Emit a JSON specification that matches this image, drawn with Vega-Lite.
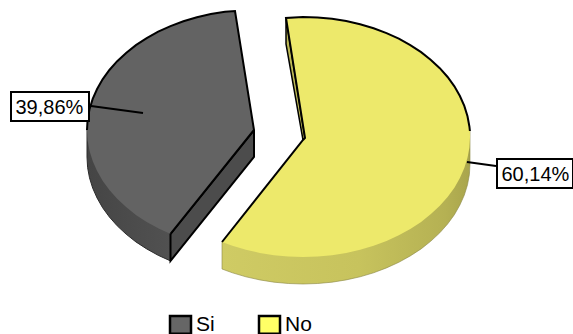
{
  "$schema": "https://vega.github.io/schema/vega-lite/v6.json",
  "width": 573,
  "height": 334,
  "padding": 0,
  "autosize": {"type": "none"},
  "background": "white",
  "config": {"view": {"stroke": null}},
  "datasets": {
    "graySide": [
      {"i":0,"x":87,"y":130},{"i":1,"x":87,"y":157},{"i":2,"x":87.6,"y":167.5},{"i":3,"x":89.5,"y":177.8},{"i":4,"x":92.7,"y":188.1},{"i":5,"x":97.1,"y":198},{"i":6,"x":102.6,"y":207.7},{"i":7,"x":109.4,"y":217},{"i":8,"x":117.2,"y":225.8},{"i":9,"x":126.1,"y":234.1},{"i":10,"x":135.9,"y":241.9},{"i":11,"x":146.7,"y":248.9},{"i":12,"x":158.2,"y":255.3},{"i":13,"x":170.5,"y":260.9},{"i":14,"x":170.5,"y":233.9},{"i":15,"x":87,"y":130}
    ],
    "grayWall": [
      {"i":0,"x":254,"y":130},{"i":1,"x":170.5,"y":233.9},{"i":2,"x":170.5,"y":260.9},{"i":3,"x":254,"y":157},{"i":4,"x":254,"y":130}
    ],
    "yellowSide": [
      {"i":0,"x":470,"y":130},{"i":1,"x":470,"y":164},{"i":2,"x":469.4,"y":174.5},{"i":3,"x":467.5,"y":184.8},{"i":4,"x":464.3,"y":195.1},{"i":5,"x":459.9,"y":205},{"i":6,"x":454.4,"y":214.7},{"i":7,"x":447.6,"y":224},{"i":8,"x":439.8,"y":232.8},{"i":9,"x":430.9,"y":241.1},{"i":10,"x":421.1,"y":248.9},{"i":11,"x":410.3,"y":255.9},{"i":12,"x":398.8,"y":262.3},{"i":13,"x":386.5,"y":267.9},{"i":14,"x":373.6,"y":272.8},{"i":15,"x":360.1,"y":276.8},{"i":16,"x":346.2,"y":279.9},{"i":17,"x":332,"y":282.2},{"i":18,"x":317.6,"y":283.5},{"i":19,"x":303,"y":284},{"i":20,"x":288.4,"y":283.5},{"i":21,"x":274,"y":282.2},{"i":22,"x":259.8,"y":279.9},{"i":23,"x":245.9,"y":276.8},{"i":24,"x":232.4,"y":272.8},{"i":25,"x":222,"y":269},{"i":26,"x":222,"y":242},{"i":27,"x":303,"y":200},{"i":28,"x":470,"y":130}
    ],
    "yellowWall": [
      {"i":0,"x":286,"y":18},{"i":1,"x":305,"y":138},{"i":2,"x":303,"y":140},{"i":3,"x":286,"y":44},{"i":4,"x":286,"y":18}
    ],
    "tops": [
      {"series":"Si","i":0,"x":87,"y":130},{"series":"Si","i":1,"x":87.6,"y":119.5},{"series":"Si","i":2,"x":89.5,"y":109.2},{"series":"Si","i":3,"x":92.7,"y":98.9},{"series":"Si","i":4,"x":97.1,"y":89},{"series":"Si","i":5,"x":102.6,"y":79.3},{"series":"Si","i":6,"x":109.4,"y":70},{"series":"Si","i":7,"x":117.2,"y":61.2},{"series":"Si","i":8,"x":126.1,"y":52.9},{"series":"Si","i":9,"x":135.9,"y":45.1},{"series":"Si","i":10,"x":146.7,"y":38.1},{"series":"Si","i":11,"x":158.2,"y":31.7},{"series":"Si","i":12,"x":170.5,"y":26.1},{"series":"Si","i":13,"x":183.4,"y":21.3},{"series":"Si","i":14,"x":196.9,"y":17.2},{"series":"Si","i":15,"x":210.8,"y":14.1},{"series":"Si","i":16,"x":225,"y":11.8},{"series":"Si","i":17,"x":235,"y":11},{"series":"Si","i":18,"x":254,"y":130},{"series":"Si","i":19,"x":170.5,"y":233.9},{"series":"Si","i":20,"x":158.2,"y":228.3},{"series":"Si","i":21,"x":146.7,"y":221.9},{"series":"Si","i":22,"x":135.9,"y":214.9},{"series":"Si","i":23,"x":126.1,"y":207.1},{"series":"Si","i":24,"x":117.2,"y":198.8},{"series":"Si","i":25,"x":109.4,"y":190},{"series":"Si","i":26,"x":102.6,"y":180.7},{"series":"Si","i":27,"x":97.1,"y":171},{"series":"Si","i":28,"x":92.7,"y":161.1},{"series":"Si","i":29,"x":89.5,"y":150.8},{"series":"Si","i":30,"x":87.6,"y":140.5},{"series":"Si","i":31,"x":87,"y":130},
      {"series":"No","i":0,"x":469.9,"y":131},{"series":"No","i":1,"x":469.4,"y":126.5},{"series":"No","i":2,"x":467.5,"y":116.2},{"series":"No","i":3,"x":464.3,"y":105.9},{"series":"No","i":4,"x":459.9,"y":96},{"series":"No","i":5,"x":454.4,"y":86.3},{"series":"No","i":6,"x":447.6,"y":77},{"series":"No","i":7,"x":439.8,"y":68.2},{"series":"No","i":8,"x":430.9,"y":59.9},{"series":"No","i":9,"x":421.1,"y":52.1},{"series":"No","i":10,"x":410.3,"y":45.1},{"series":"No","i":11,"x":398.8,"y":38.7},{"series":"No","i":12,"x":386.5,"y":33.1},{"series":"No","i":13,"x":373.6,"y":28.2},{"series":"No","i":14,"x":360.1,"y":24.2},{"series":"No","i":15,"x":346.2,"y":21.1},{"series":"No","i":16,"x":332,"y":18.8},{"series":"No","i":17,"x":317.6,"y":17.5},{"series":"No","i":18,"x":303,"y":17},{"series":"No","i":19,"x":286,"y":18},{"series":"No","i":20,"x":305,"y":138},{"series":"No","i":21,"x":303,"y":140},{"series":"No","i":22,"x":222,"y":242},{"series":"No","i":23,"x":232.4,"y":245.8},{"series":"No","i":24,"x":245.9,"y":249.8},{"series":"No","i":25,"x":259.8,"y":252.9},{"series":"No","i":26,"x":274,"y":255.2},{"series":"No","i":27,"x":288.4,"y":256.5},{"series":"No","i":28,"x":303,"y":257},{"series":"No","i":29,"x":317.6,"y":256.5},{"series":"No","i":30,"x":332,"y":255.2},{"series":"No","i":31,"x":346.2,"y":252.9},{"series":"No","i":32,"x":360.1,"y":249.8},{"series":"No","i":33,"x":373.6,"y":245.8},{"series":"No","i":34,"x":386.5,"y":240.9},{"series":"No","i":35,"x":398.8,"y":235.3},{"series":"No","i":36,"x":410.3,"y":228.9},{"series":"No","i":37,"x":421.1,"y":221.9},{"series":"No","i":38,"x":430.9,"y":214.1},{"series":"No","i":39,"x":439.8,"y":205.8},{"series":"No","i":40,"x":447.6,"y":197},{"series":"No","i":41,"x":454.4,"y":187.7},{"series":"No","i":42,"x":459.9,"y":178},{"series":"No","i":43,"x":464.3,"y":168.1},{"series":"No","i":44,"x":467.5,"y":157.8},{"series":"No","i":45,"x":469.4,"y":147.5},{"series":"No","i":46,"x":470,"y":137},{"series":"No","i":47,"x":469.9,"y":131}
    ],
    "labels": [
      {"series":"Si","share":39.86,"label":"39,86%","x":91,"y":106,"xEnd":143,"yEnd":113,"boxLeft":11,"boxRight":89,"boxTop":92,"boxBottom":121,"textX":15.5,"textY":107.5},
      {"series":"No","share":60.14,"label":"60,14%","x":467,"y":162,"xEnd":496,"yEnd":166,"boxLeft":497,"boxRight":573,"boxTop":159,"boxBottom":188,"textX":501.5,"textY":174.5}
    ]
  },
  "encoding": {
    "x": {"field": "x", "type": "quantitative", "axis": null, "scale": {"domain": [0, 573], "nice": false, "zero": false}},
    "y": {"field": "y", "type": "quantitative", "axis": null, "scale": {"domain": [334, 0], "nice": false, "zero": false}}
  },
  "layer": [
    {
      "data": {"name": "graySide"},
      "mark": {"type": "line", "strokeWidth": 1, "stroke": "#2b2b2b", "fill": {"gradient": "linear", "x1": 0, "y1": 0, "x2": 1, "y2": 0, "stops": [{"offset": 0, "color": "#454545"}, {"offset": 1, "color": "#515151"}]}},
      "encoding": {"order": {"field": "i"}}
    },
    {
      "data": {"name": "grayWall"},
      "mark": {"type": "line", "strokeWidth": 2, "stroke": "#000000", "fill": "#4c4c4c"},
      "encoding": {"order": {"field": "i"}}
    },
    {
      "data": {"name": "yellowSide"},
      "mark": {"type": "line", "strokeWidth": 0.6, "stroke": "#8a8744", "fill": {"gradient": "linear", "x1": 0, "y1": 0, "x2": 1, "y2": 0, "stops": [{"offset": 0, "color": "#cfcb64"}, {"offset": 0.55, "color": "#c7c35d"}, {"offset": 0.9, "color": "#b5b153"}, {"offset": 1, "color": "#a9a54c"}]}},
      "encoding": {"order": {"field": "i"}}
    },
    {
      "data": {"name": "yellowWall"},
      "mark": {"type": "line", "strokeWidth": 1.5, "stroke": "#000000", "fill": "#bdb955"},
      "encoding": {"order": {"field": "i"}}
    },
    {
      "data": {"name": "tops"},
      "transform": [{"filter": "datum.series === 'Si'"}],
      "mark": {"type": "line", "strokeWidth": 0, "fill": "#636363"},
      "encoding": {"order": {"field": "i"}}
    },
    {
      "data": {"name": "tops"},
      "transform": [{"filter": "datum.series === 'No'"}],
      "mark": {"type": "line", "strokeWidth": 0, "fill": "#ede96b"},
      "encoding": {"order": {"field": "i"}}
    },
    {
      "data": {"name": "tops"},
      "transform": [{"filter": "datum.i <= (datum.series === 'Si' ? 19 : 22)"}],
      "mark": {"type": "line", "strokeWidth": 2, "stroke": "#000000"},
      "encoding": {"order": {"field": "i"}, "detail": {"field": "series"}}
    },
    {
      "data": {"name": "labels"},
      "mark": {"type": "rule", "strokeWidth": 2, "color": "#000000"},
      "encoding": {"x2": {"field": "xEnd"}, "y2": {"field": "yEnd"}}
    },
    {
      "data": {"name": "labels"},
      "mark": {"type": "rect", "fill": "#ffffff", "stroke": "#000000", "strokeWidth": 2},
      "encoding": {
        "x": {"field": "boxLeft", "type": "quantitative"},
        "x2": {"field": "boxRight"},
        "y": {"field": "boxTop", "type": "quantitative"},
        "y2": {"field": "boxBottom"}
      }
    },
    {
      "data": {"name": "labels"},
      "mark": {"type": "text", "align": "left", "baseline": "middle", "font": "Liberation Sans", "fontSize": 20, "color": "#000000"},
      "encoding": {
        "x": {"field": "textX", "type": "quantitative"},
        "y": {"field": "textY", "type": "quantitative"},
        "text": {"field": "label"}
      }
    },
    {
      "data": {"name": "labels"},
      "mark": {"type": "point", "filled": true, "size": 0, "opacity": 1},
      "encoding": {
        "fill": {
          "field": "series",
          "type": "nominal",
          "scale": {"domain": ["Si", "No"], "range": ["#666666", "#ffff66"]},
          "legend": {
            "title": null,
            "orient": "none",
            "legendX": 169,
            "legendY": 313,
            "direction": "horizontal",
            "symbolType": "M-1.05,-0.88H1.05V0.88H-1.05Z",
            "symbolSize": 400,
            "symbolStrokeColor": "#000000",
            "symbolStrokeWidth": 2.5,
            "labelFont": "Liberation Sans",
            "labelFontSize": 21,
            "labelColor": "#000000",
            "labelOffset": 4,
            "columnPadding": 39
          }
        }
      }
    }
  ]
}
